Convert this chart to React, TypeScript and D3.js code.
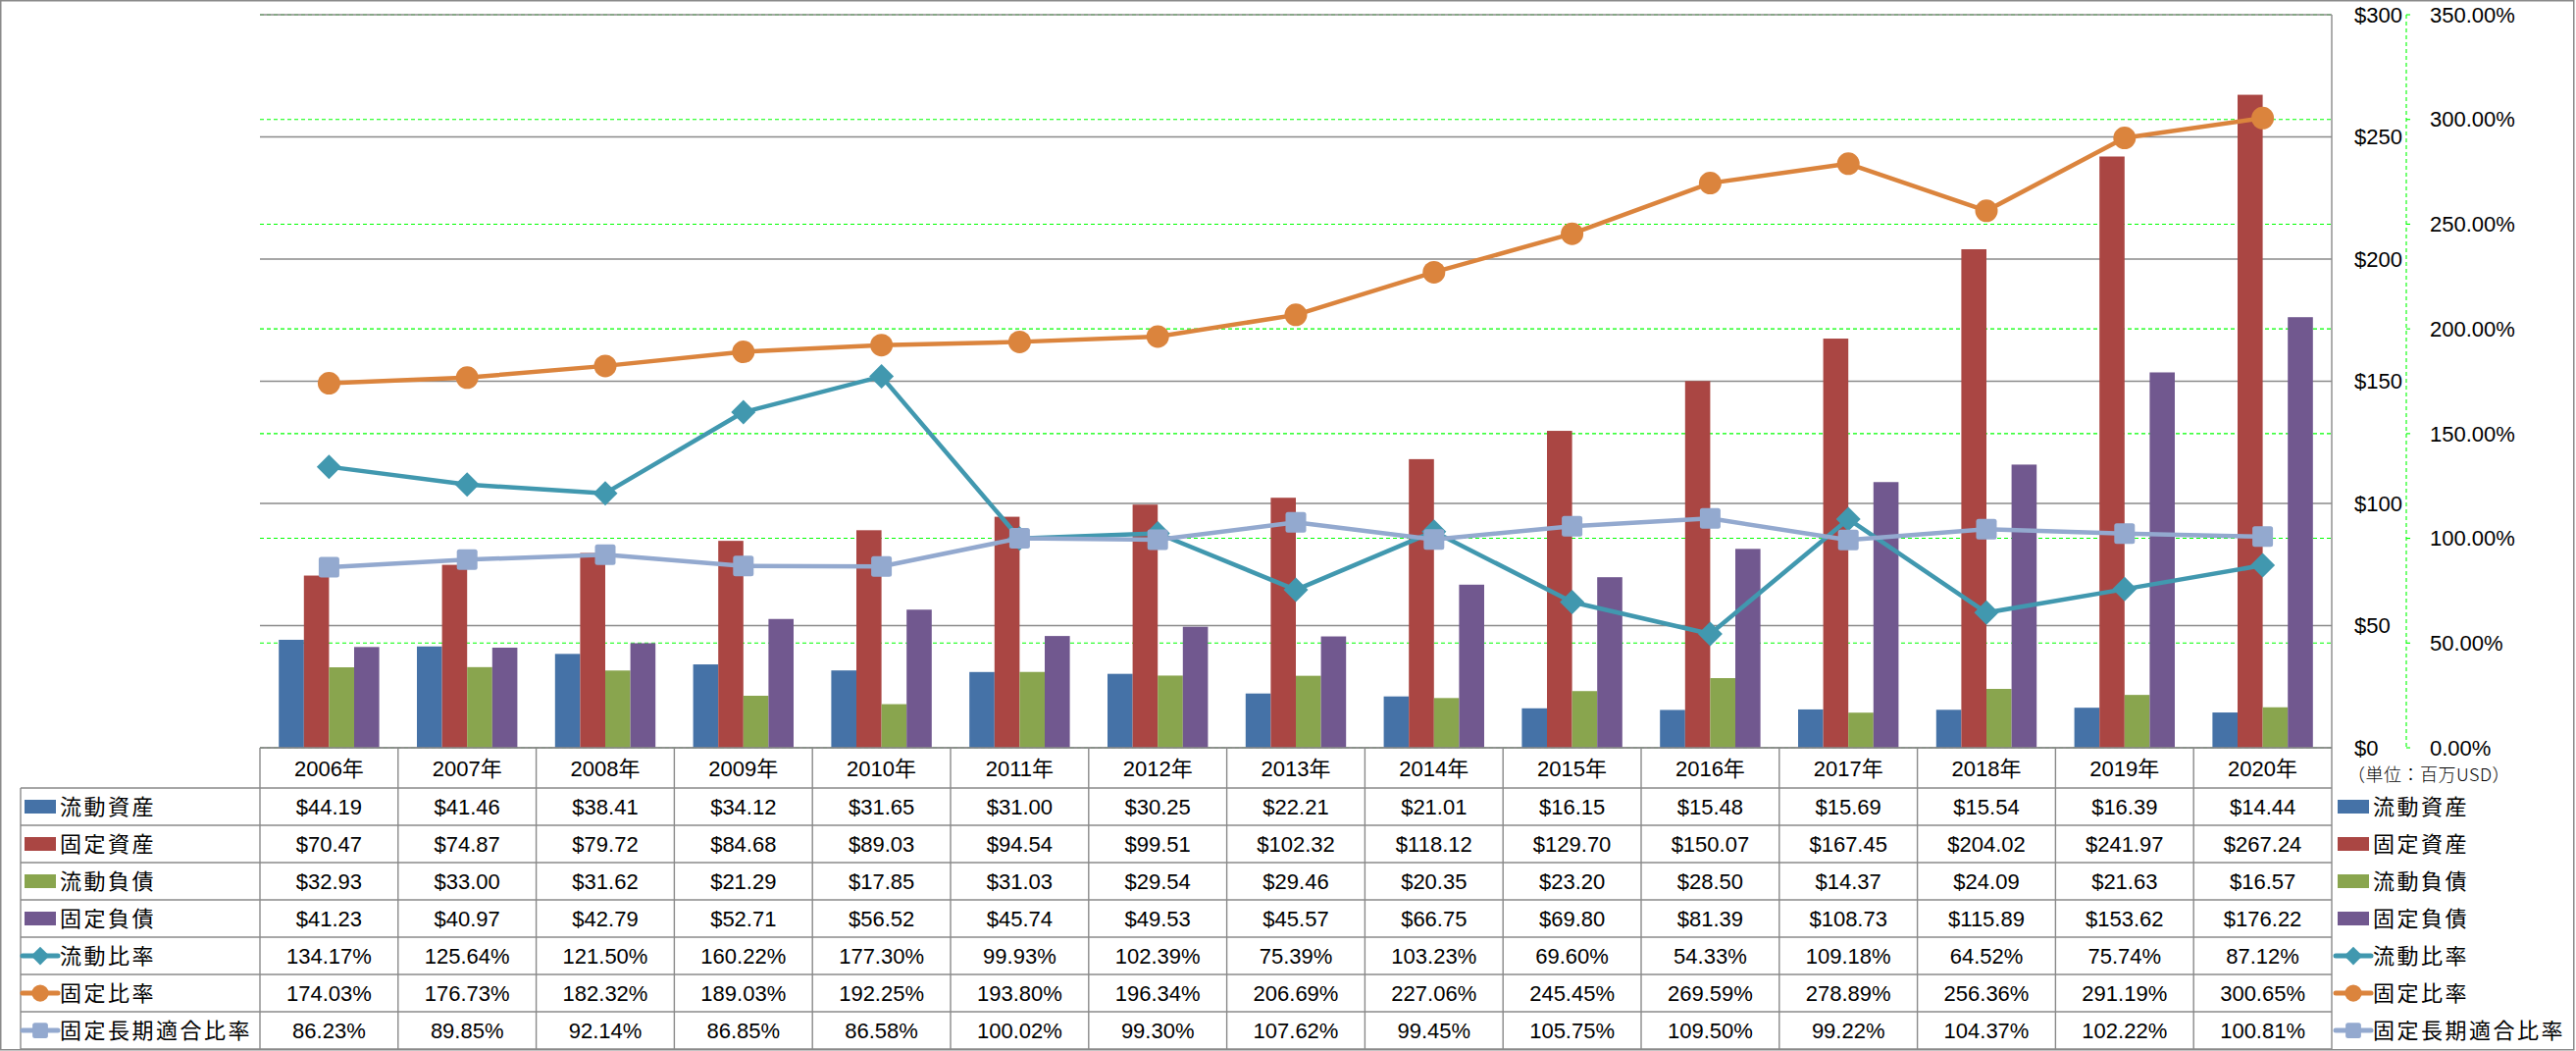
import React from "react";
import * as d3 from "d3";

// 年度
const years = [
  "2006年", "2007年", "2008年", "2009年", "2010年", "2011年", "2012年", "2013年",
  "2014年", "2015年", "2016年", "2017年", "2018年", "2019年", "2020年",
];

// 金額 (百万USD)
const currentAssets = [44.19, 41.46, 38.41, 34.12, 31.65, 31.0, 30.25, 22.21, 21.01, 16.15, 15.48, 15.69, 15.54, 16.39, 14.44];
const fixedAssets = [70.47, 74.87, 79.72, 84.68, 89.03, 94.54, 99.51, 102.32, 118.12, 129.7, 150.07, 167.45, 204.02, 241.97, 267.24];
const currentLiabilities = [32.93, 33.0, 31.62, 21.29, 17.85, 31.03, 29.54, 29.46, 20.35, 23.2, 28.5, 14.37, 24.09, 21.63, 16.57];
const fixedLiabilities = [41.23, 40.97, 42.79, 52.71, 56.52, 45.74, 49.53, 45.57, 66.75, 69.8, 81.39, 108.73, 115.89, 153.62, 176.22];

// 比率 (%)
const currentRatio = [134.17, 125.64, 121.5, 160.22, 177.3, 99.93, 102.39, 75.39, 103.23, 69.6, 54.33, 109.18, 64.52, 75.74, 87.12];
const fixedRatio = [174.03, 176.73, 182.32, 189.03, 192.25, 193.8, 196.34, 206.69, 227.06, 245.45, 269.59, 278.89, 256.36, 291.19, 300.65];
const fixedLongTermRatio = [86.23, 89.85, 92.14, 86.85, 86.58, 100.02, 99.3, 107.62, 99.45, 105.75, 109.5, 99.22, 104.37, 102.22, 100.81];

const dollarTicks = [0, 50, 100, 150, 200, 250, 300];
const percentTicks = [0, 50, 100, 150, 200, 250, 300, 350];

const barSeries = [
  { name: "流動資産", values: currentAssets, color: "#4572A7" },
  { name: "固定資産", values: fixedAssets, color: "#AA4643" },
  { name: "流動負債", values: currentLiabilities, color: "#89A54E" },
  { name: "固定負債", values: fixedLiabilities, color: "#71588F" },
];

const lineSeries = [
  { name: "流動比率", values: currentRatio, color: "#4198AF", marker: "diamond" },
  { name: "固定比率", values: fixedRatio, color: "#DB843D", marker: "circle" },
  { name: "固定長期適合比率", values: fixedLongTermRatio, color: "#93A9CF", marker: "square" },
];

const W = 2626;
const H = 1071;
const left = 265;
const right = 2377;
const top = 15;
const bottom = 762;
const headerH = 41;
const rowH = 38;
const gray = "#8a8a8a";
const green = "#00ff00";
const numFont = "'Liberation Sans', 'Noto Sans CJK JP', sans-serif";
const jpFont = "'Noto Sans CJK JP', sans-serif";

const Marker = ({ type, x, y, color, s = 1 }: { type: string; x: number; y: number; color: string; s?: number }) => {
  if (type === "diamond") {
    const r = 12.5 * s;
    return <path d={`M${x},${y - r}L${x + r},${y}L${x},${y + r}L${x - r},${y}Z`} fill={color} />;
  }
  if (type === "circle") return <circle cx={x} cy={y} r={11.5 * s} fill={color} />;
  const h = 10.5 * s;
  return <rect x={x - h} y={y - h} width={h * 2} height={h * 2} rx={2.5} fill={color} />;
};

const LegendKey = ({ x, cy, series }: { x: number; cy: number; series: any }) => {
  if (!series.marker) {
    return <rect x={x} y={cy - 7} width={32} height={14} fill={series.color} />;
  }
  return (
    <g>
      <line x1={x - 2} x2={x + 34} y1={cy} y2={cy} stroke={series.color} strokeWidth={5} strokeLinecap="round" />
      <Marker type={series.marker} x={x + 16} y={cy} color={series.color} s={0.75} />
    </g>
  );
};

export default function App() {
  const x = d3.scaleBand<string>().domain(years).range([left, right]).paddingInner(0).paddingOuter(0);
  const bw = x.bandwidth();
  const unit = bw / 5.5; // gap width 150%
  const xInner = d3
    .scaleBand<string>()
    .domain(barSeries.map((s) => s.name))
    .range([unit * 0.75, unit * 4.75]);
  const y = d3.scaleLinear().domain([0, 300]).range([bottom, top]);
  const y2 = d3.scaleLinear().domain([0, 350]).range([bottom, top]);

  const lineGen = d3
    .line<number>()
    .x((_, i) => x(years[i])! + bw / 2)
    .y((v) => y2(v));

  const allSeries: any[] = [...barSeries, ...lineSeries];
  const rowsTop = bottom + headerH;
  const tableBottom = rowsTop + rowH * allSeries.length;

  const fmt = (s: any, v: number) => (s.marker ? `${v.toFixed(2)}%` : `$${v.toFixed(2)}`);

  return (
    <svg
      width={W}
      height={H}
      style={{ position: "absolute", left: 0, top: 0, background: "#fff" }}
      fontFamily={numFont}
    >
      <rect x={0.75} y={0.75} width={W - 3} height={H - 2} fill="#fff" stroke={gray} strokeWidth={1.5} />

      {/* secondary gridlines (%) */}
      {percentTicks.map((t) => (
        <line key={"g" + t} x1={left} x2={right} y1={y2(t)} y2={y2(t)} stroke={green} strokeWidth={1.1} strokeDasharray="4,3" />
      ))}
      {/* primary gridlines ($) */}
      {dollarTicks.map((t) => (
        <line key={"d" + t} x1={left} x2={right} y1={y(t)} y2={y(t)} stroke={gray} strokeWidth={1.4} />
      ))}
      <line x1={right} x2={right} y1={top} y2={bottom} stroke={gray} strokeWidth={1.4} />

      {/* bars */}
      {barSeries.map((s) => (
        <g key={s.name}>
          {s.values.map((v, i) => (
            <rect
              key={i}
              x={x(years[i])! + xInner(s.name)!}
              y={y(v)}
              width={xInner.bandwidth()}
              height={y(0) - y(v)}
              fill={s.color}
            />
          ))}
        </g>
      ))}

      {/* lines */}
      {lineSeries.map((s) => (
        <g key={s.name}>
          <path d={lineGen(s.values)!} fill="none" stroke={s.color} strokeWidth={4.5} strokeLinejoin="round" />
          {s.values.map((v, i) => (
            <Marker key={i} type={s.marker} x={x(years[i])! + bw / 2} y={y2(v)} color={s.color} />
          ))}
        </g>
      ))}

      {/* $ axis labels */}
      {dollarTicks.map((t) => (
        <text key={"dl" + t} x={2400} y={y(t)} dy="0.35em" fontSize={22}>
          {`$${t}`}
        </text>
      ))}
      {/* % axis */}
      <line x1={2453} x2={2453} y1={top} y2={bottom} stroke={green} strokeWidth={1.1} strokeDasharray="4,3" />
      {percentTicks.map((t) => (
        <g key={"pl" + t}>
          <line x1={2453} x2={2457} y1={y2(t)} y2={y2(t)} stroke={green} strokeWidth={1.1} />
          <text x={2477} y={y2(t)} dy="0.35em" fontSize={22}>
            {`${t.toFixed(2)}%`}
          </text>
        </g>
      ))}
      <text x={2393} y={790} dy="0.35em" fontSize={18} fontFamily={jpFont} fontWeight={300} letterSpacing={0.5}>
        （単位：百万USD）
      </text>

      {/* data table */}
      <g stroke={gray} strokeWidth={1.4}>
        <line x1={left} x2={right} y1={bottom} y2={bottom} />
        {allSeries.map((_, r) => (
          <line key={"h" + r} x1={21} x2={right} y1={rowsTop + r * rowH} y2={rowsTop + r * rowH} />
        ))}
        <line x1={21} x2={right} y1={tableBottom} y2={tableBottom} />
        <line x1={21} x2={21} y1={rowsTop} y2={tableBottom} />
        {years.map((yr, i) => (
          <line key={"v" + i} x1={x(yr)!} x2={x(yr)!} y1={bottom} y2={tableBottom} />
        ))}
        <line x1={right} x2={right} y1={bottom} y2={tableBottom} />
      </g>
      {years.map((yr) => (
        <text key={yr} x={x(yr)! + bw / 2} y={bottom + headerH / 2 + 1} dy="0.35em" fontSize={22} textAnchor="middle">
          {yr}
        </text>
      ))}
      {allSeries.map((s, r) => {
        const cy = rowsTop + r * rowH + rowH / 2;
        return (
          <g key={s.name}>
            <LegendKey x={25} cy={cy} series={s} />
            <text x={61} y={cy} dy="0.35em" fontSize={22} fontFamily={jpFont} letterSpacing={2.5}>
              {s.name}
            </text>
            {s.values.map((v: number, i: number) => (
              <text key={i} x={x(years[i])! + bw / 2} y={cy} dy="0.35em" fontSize={22} textAnchor="middle">
                {fmt(s, v)}
              </text>
            ))}
            {/* right legend */}
            <LegendKey x={2383} cy={cy} series={s} />
            <text x={2419} y={cy} dy="0.35em" fontSize={22} fontFamily={jpFont} letterSpacing={2.5}>
              {s.name}
            </text>
          </g>
        );
      })}
    </svg>
  );
}
